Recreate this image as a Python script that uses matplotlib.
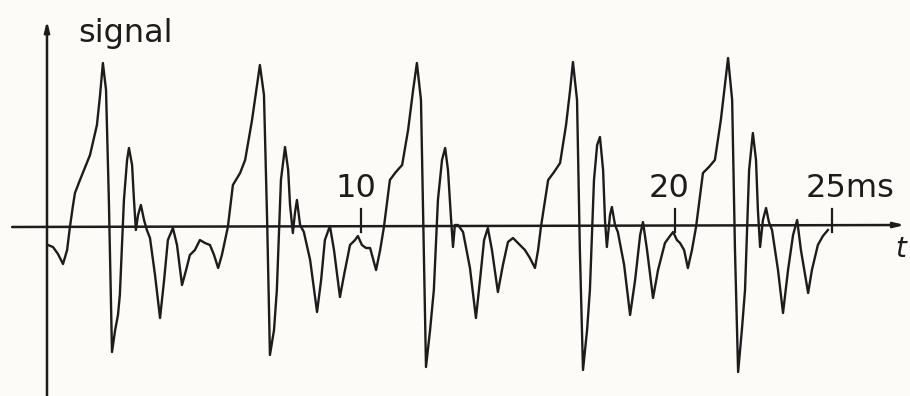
import matplotlib.pyplot as plt
import numpy as np

# time (ms) and signal amplitude (arbitrary units)
t_ms = [0.03, 0.19, 0.35, 0.51, 0.64, 0.73, 0.83, 0.89, 1.05, 1.37, 1.59, 1.69, 1.78, 1.88, 1.97,
        2.07, 2.17, 2.26, 2.32, 2.45, 2.55, 2.61, 2.71, 2.77, 2.83, 2.90, 2.99, 3.09, 3.18, 3.28,
        3.44, 3.60, 3.73, 3.85, 4.01, 4.14, 4.30, 4.43, 4.55, 4.71, 4.87, 5.03, 5.19, 5.32, 5.45,
        5.57, 5.76, 5.92, 6.15, 6.31, 6.53, 6.69, 6.78, 6.91, 7.01, 7.10, 7.23, 7.32, 7.45, 7.58,
        7.68, 7.74, 7.83, 7.90, 7.96, 8.06, 8.18, 8.38, 8.60, 8.73, 8.85, 9.01, 9.14, 9.33, 9.46,
        9.65, 9.81, 9.90, 10.03, 10.16, 10.29, 10.48, 10.61, 10.73, 10.92, 11.11, 11.31, 11.50,
        11.66, 11.78, 11.91, 11.97, 12.07, 12.20, 12.32, 12.45, 12.58, 12.68, 12.77, 12.87, 12.93,
        12.99, 13.09, 13.25, 13.47, 13.66, 13.79, 13.92, 14.04, 14.17, 14.36, 14.52, 14.68, 14.84,
        15.00, 15.22, 15.38, 15.54, 15.64, 15.73, 15.96, 16.15, 16.34, 16.53, 16.66, 16.75, 16.88,
        16.97, 17.07, 17.20, 17.29, 17.42, 17.52, 17.61, 17.71, 17.77, 17.83, 17.93, 17.99, 18.09,
        18.18, 18.38, 18.57, 18.73, 18.89, 18.98, 19.11, 19.30, 19.46, 19.68, 19.84, 19.94, 20.06,
        20.16, 20.29, 20.41, 20.54, 20.67, 20.89, 21.08, 21.27, 21.46, 21.59, 21.69, 21.82, 21.91,
        22.01, 22.13, 22.23, 22.36, 22.48, 22.58, 22.64, 22.71, 22.80, 22.90, 22.99, 23.09, 23.28,
        23.44, 23.60, 23.76, 23.89, 24.01, 24.24, 24.36, 24.55, 24.71, 24.87]
amp = [-0.18, -0.20, -0.27, -0.37, -0.23, 0.00, 0.22, 0.34, 0.47, 0.72, 1.02, 1.32, 1.64, 1.37, 0.27,
       -1.25, -1.03, -0.88, -0.68, 0.27, 0.67, 0.79, 0.62, 0.27, -0.03, 0.12, 0.22, 0.07, -0.03, -0.11,
       -0.48, -0.91, -0.53, -0.13, -0.01, -0.18, -0.58, -0.43, -0.28, -0.23, -0.13, -0.16, -0.18, -0.28, -0.41,
       -0.28, 0.00, 0.42, 0.54, 0.67, 1.07, 1.42, 1.62, 1.32, 0.07, -1.28, -1.03, -0.63, 0.47, 0.80,
       0.57, 0.22, -0.06, 0.15, 0.27, 0.02, -0.05, -0.33, -0.85, -0.53, -0.13, 0.01, -0.23, -0.70, -0.48,
       -0.18, -0.13, -0.09, -0.18, -0.21, -0.21, -0.43, -0.23, 0.00, 0.47, 0.55, 0.62, 0.97,
       1.37, 1.64, 1.27, 0.27, -1.40, -1.03, -0.63, 0.27, 0.67, 0.79, 0.57, 0.07, -0.20,
       0.02, 0.02, -0.05, -0.41, -0.91, -0.53, -0.13, -0.01, -0.23, -0.65, -0.38, -0.15, -0.11,
       -0.16, -0.23, -0.31, -0.41, -0.23, 0.00, 0.47, 0.55, 0.64, 1.02, 1.37, 1.65, 1.27,
       -0.23, -1.43, -1.03, -0.63, 0.47, 0.82, 0.90, 0.57, 0.07, -0.20, 0.12, 0.20, 0.02,
       -0.05, -0.38, -0.88, -0.53, -0.08, 0.05, -0.23, -0.71, -0.43, -0.16, -0.09, -0.05, -0.13,
       -0.16, -0.23, -0.41, -0.23, 0.00, 0.54, 0.60, 0.67, 1.07, 1.42, 1.69, 1.27, -0.23,
       -1.45, -1.03, -0.63, 0.57, 0.94, 0.67, 0.17, -0.20, 0.07, 0.19, 0.05, -0.03, -0.43,
       -0.86, -0.43, -0.08, 0.07, -0.23, -0.66, -0.43, -0.18, -0.09, -0.03]

tick_ms = [10, 20, 25]
tick_labels = ["10", "20", "25ms"]

INK = "#1c1c1c"
PAPER = "#fcfbf8"
FONT = ["DejaVu Sans"]

fig = plt.figure(figsize=(9.10, 3.96), dpi=100, facecolor=PAPER)
ax = fig.add_axes([0, 0, 1, 1])
ax.set_facecolor(PAPER)
ax.set_xlim(-47 / 31.4, 863 / 31.4)
ax.set_ylim(-1.69, 2.27)
ax.axis("off")

# axes drawn as arrows
arrow = dict(arrowstyle="-|>,head_length=0.6,head_width=0.15", lw=1.8, color=INK)
ax.annotate("", xy=(0, 2.09), xytext=(0, -1.72), arrowprops=arrow)
ax.annotate("", xy=(27.4, 0.02), xytext=(-1.2, 0.0), arrowprops=arrow)

# signal trace
ax.plot(t_ms, amp, color=INK, lw=1.7, solid_joinstyle="round")

# time ticks and labels
for tm, lab in zip(tick_ms, tick_labels):
    ax.plot([tm, tm], [-0.05, 0.18], color=INK, lw=1.6)
    ax.text(tm - 0.83, 0.30, lab, ha="left", va="baseline", fontsize=23,
            family=FONT, color=INK)

ax.text(27.02, -0.30, "t", ha="left", va="baseline", fontsize=20, style="italic",
        family=FONT, color=INK)
ax.text(0.98, 1.85, "signal", ha="left", va="baseline", fontsize=23,
        family=FONT, color=INK)

plt.savefig("out.png", dpi=100, facecolor=PAPER)
